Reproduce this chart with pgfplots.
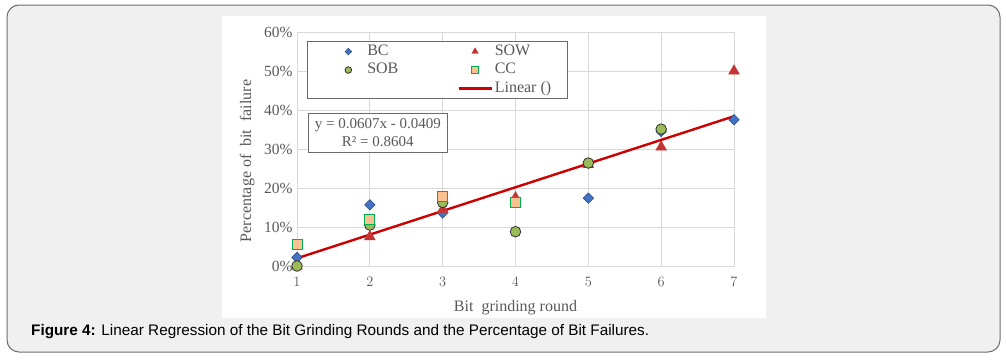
\documentclass[border=0pt]{standalone}
\usepackage{pgfplots}
\pgfplotsset{compat=1.18}
\usepackage{fontspec}
\setmainfont{Liberation Serif}
\newfontfamily\capfont{Liberation Sans}
\definecolor{bcblue}{RGB}{68,114,196}
\definecolor{bcedge}{RGB}{40,70,120}
\definecolor{sobgreen}{RGB}{155,187,89}
\definecolor{sobedge}{RGB}{50,50,50}
\definecolor{sowred}{RGB}{196,52,52}
\definecolor{ccfill}{RGB}{250,192,144}
\definecolor{ccedge}{RGB}{0,176,80}
\definecolor{linered}{RGB}{204,0,0}
\definecolor{txt}{RGB}{89,89,89}
\definecolor{gridc}{RGB}{217,217,217}
\definecolor{framebg}{RGB}{240,240,240}
\definecolor{framedge}{RGB}{110,110,110}
\pgfplotsset{
  bcst/.style={only marks, mark=square*, mark size=3.7pt, mark options={rotate=45, fill=bcblue, draw=bcedge, line width=0.5pt}},
  sobst/.style={only marks, mark=*, mark size=5.3pt, mark options={fill=sobgreen, draw=sobedge, line width=0.8pt}},
  sowst/.style={only marks, mark=triangle*, mark size=6.3pt, mark options={fill=sowred, draw=sowred, line width=0.3pt}},
  ccst/.style={only marks, mark=square*, mark size=5pt, mark options={fill=ccfill, draw=ccedge, line width=1pt}},
  linst/.style={no marks, color=linered, line width=2.4pt},
}
\begin{document}
\begin{tikzpicture}[x=1pt,y=1pt]
\useasboundingbox (0,0) rectangle (1006,360);
\draw[rounded corners=12pt, fill=framebg, draw=framedge, line width=1pt] (7,8) rectangle (1000,355);
\fill[white] (222,42) rectangle (766,344);
\node[anchor=base west, font=\capfont\fontsize{15.3}{17}\selectfont, text=black, inner sep=0pt] at (31,25) {\textbf{Figure 4:} Linear Regression of the Bit Grinding Rounds and the Percentage of Bit Failures.};
\begin{axis}[
  at={(297pt,94pt)}, anchor=south west,
  scale only axis, width=437pt, height=234pt,
  xmin=1, xmax=7, ymin=0, ymax=0.6,
  clip=false,
  xtick={1,2,3,4,5,6,7},
  ytick={0,0.1,0.2,0.3,0.4,0.5,0.6},
  yticklabels={0\%,10\%,20\%,30\%,40\%,50\%,60\%},
  grid=major,
  grid style={gridc, line width=0.9pt},
  axis line style={gridc, line width=0.9pt},
  major tick length=0pt,
  tick label style={font=\fontsize{15.5}{17}\selectfont, text=txt},
  xticklabel style={yshift=-8pt},
  yticklabel style={xshift=-1pt},
  xlabel={Bit\ \ grinding round},
  ylabel={Percentage of\ \ bit\ \ failure},
  label style={font=\fontsize{16}{18}\selectfont, text=txt},
  xlabel style={at={(axis description cs:0.5,-0.177)}, anchor=center},
  ylabel style={at={(axis description cs:-0.114,0.449)}, anchor=center},
  legend columns=2,
  legend cell align=left,
  legend image code/.code={\path (-10pt,0pt) (33pt,0pt); \draw[mark repeat=2,mark phase=2,#1] plot coordinates {(0pt,0pt)(16.5pt,0pt)(33pt,0pt)};},
  legend style={at={(axis description cs:0.023,0.962)}, anchor=north west,
    draw=txt!90, line width=0.8pt, fill=white,
    font=\fontsize{16}{18}\selectfont, text=txt,
    inner xsep=14pt, inner ysep=1pt, row sep=0pt,
    nodes={inner ysep=2pt, text height=11pt, text depth=3.5pt},
    /tikz/every even column/.append style={column sep=47pt}},
]
\addlegendimage{bcst, mark size=2.3pt}\addlegendentry{BC}
\addlegendimage{sowst, mark size=3.8pt}\addlegendentry{SOW}
\addlegendimage{sobst, mark size=3.3pt}\addlegendentry{SOB}
\addlegendimage{ccst, mark size=3.2pt}\addlegendentry{CC}
\addlegendimage{empty legend}\addlegendentry{}
\addlegendimage{linst}\addlegendentry{Linear ()}

% BC
\addplot[bcst, forget plot] coordinates {(1,0.022) (2,0.157) (3,0.136) (4,0.165) (5,0.174) (6,0.345) (7,0.375)};
% SOW
\addplot[sowst, forget plot] coordinates {(1,0.0) (2,0.075) (3,0.145) (4,0.175) (5,0.26) (6,0.305) (7,0.50)};
% SOB
\addplot[sobst, forget plot] coordinates {(1,0.0) (2,0.105) (3,0.163) (4,0.088) (5,0.264) (6,0.351)};
% CC
\addplot[ccst, forget plot] coordinates {(1,0.055) (2,0.118) (3,0.178) (4,0.162)};
% Linear trend
\addplot[linst, forget plot] coordinates {(1,0.0198) (7,0.3840)};

\node[draw=txt!90, line width=0.8pt, fill=white, align=center, anchor=north west,
  font=\fontsize{15}{18}\selectfont, text=txt, minimum width=139pt, minimum height=39pt, inner sep=1pt]
  at (axis description cs:0.025,0.654) {y = 0.0607x - 0.0409\\R² = 0.8604};
\end{axis}
\end{tikzpicture}
\end{document}
